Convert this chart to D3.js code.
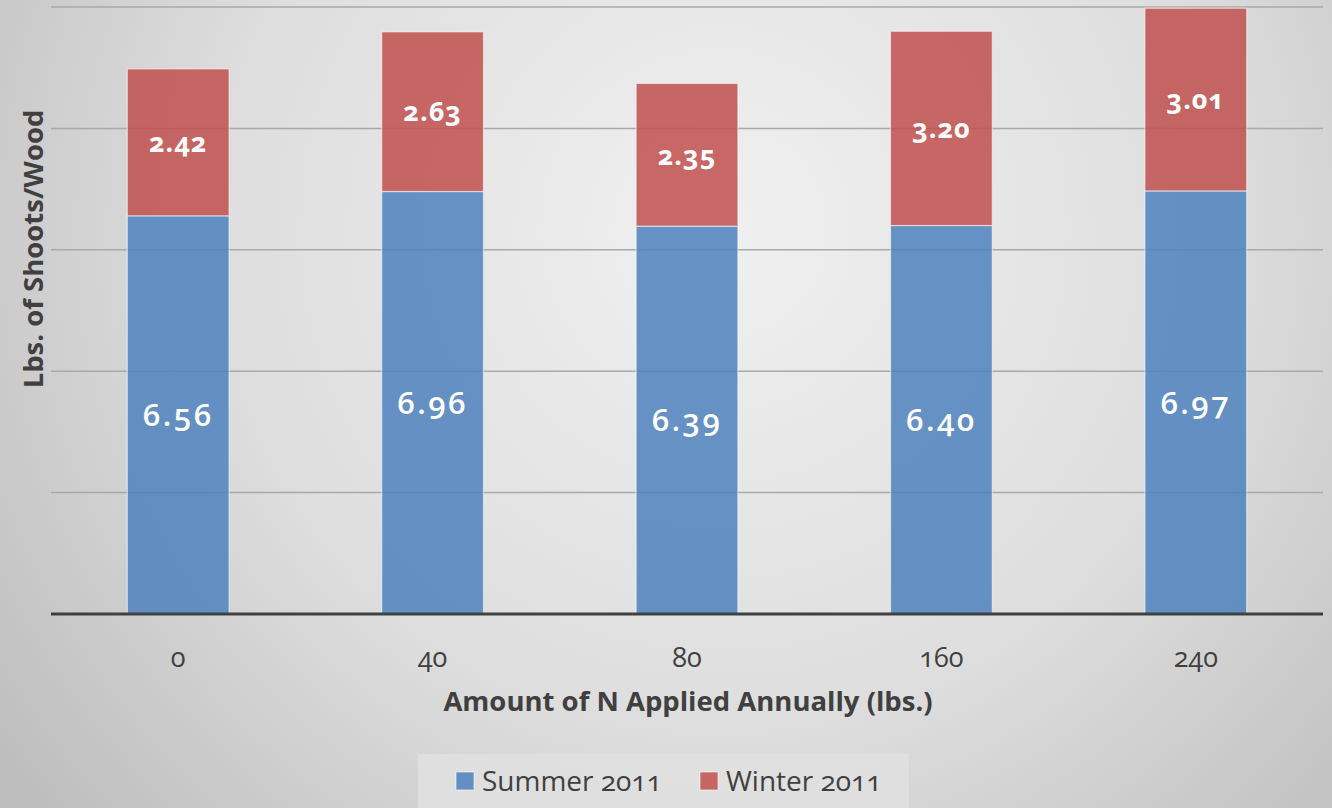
<!DOCTYPE html>
<html>
<head>
<meta charset="utf-8">
<script src="https://cdn.jsdelivr.net/npm/d3@7"></script>
<style>
  html, body { margin: 0; padding: 0; background: #d9d9d9; }
  svg { display: block; }
  text { font-family: "Open Sans", "Noto Sans", sans-serif; font-variant-numeric: oldstyle-nums; font-feature-settings: "onum" 1; }
</style>
</head>
<body>
<svg id="chart" width="1332" height="808"></svg>
<script>
// N application rates (lbs.) and pounds of shoots/wood per season
const categories = ["0", "40", "80", "160", "240"];
const summer2011 = [6.56, 6.96, 6.39, 6.40, 6.97];
const winter2011 = [2.42, 2.63, 2.35, 3.20, 3.01];
const seriesNames = ["Summer 2011", "Winter 2011"];
const yTicks = [0, 2, 4, 6, 8, 10];

const W = 1332, H = 808;
const margin = { left: 51, right: 9, top: 7, bottom: 194 };
const svg = d3.select("#chart");

// soft radial backdrop
const defs = svg.append("defs");
const grad = defs.append("radialGradient")
  .attr("id", "bg").attr("gradientUnits", "userSpaceOnUse")
  .attr("cx", 720).attr("cy", 230).attr("r", 900);
grad.append("stop").attr("offset", "0%").attr("stop-color", "#f0f0f0");
grad.append("stop").attr("offset", "55%").attr("stop-color", "#dedede");
grad.append("stop").attr("offset", "100%").attr("stop-color", "#bdbdbd");
svg.append("rect").attr("width", W).attr("height", H).attr("fill", "url(#bg)");

const x = d3.scaleBand()
  .domain(categories)
  .range([margin.left, W - margin.right])
  .paddingInner(0.6)
  .paddingOuter(0.3);

const y = d3.scaleLinear()
  .domain([0, 10])
  .range([H - margin.bottom, margin.top]);

// horizontal gridlines
svg.append("g")
  .selectAll("line")
  .data(yTicks.filter(d => d > 0))
  .join("line")
  .attr("x1", margin.left).attr("x2", W - margin.right)
  .attr("y1", d => y(d)).attr("y2", d => y(d))
  .attr("stroke", "#a9a9a9").attr("stroke-width", 1.5);

const rows = categories.map((c, i) => ({ cat: c, summer: summer2011[i], winter: winter2011[i] }));
const stack = d3.stack().keys(["summer", "winter"])(rows);
const colors = { summer: "#4f81bd", winter: "#c0504d" };

const layers = svg.append("g").selectAll("g")
  .data(stack)
  .join("g")
  .attr("fill", d => colors[d.key]);

layers.selectAll("rect")
  .data(d => d)
  .join("rect")
  .attr("x", d => x(d.data.cat))
  .attr("width", x.bandwidth())
  .attr("y", d => y(d[1]))
  .attr("height", d => y(d[0]) - y(d[1]))
  .attr("fill-opacity", 0.85)
  .attr("stroke", "rgba(255,255,255,0.55)")
  .attr("stroke-width", 1.2);

// value labels centred in each segment
stack.forEach(layer => {
  const isSummer = layer.key === "summer";
  svg.append("g").selectAll("text")
    .data(layer)
    .join("text")
    .attr("x", d => x(d.data.cat) + x.bandwidth() / 2)
    .attr("y", d => (y(d[0]) + y(d[1])) / 2)
    .attr("dy", "0.36em")
    .attr("text-anchor", "middle")
    .attr("fill", "#ffffff")
    .attr("font-size", isSummer ? 31 : 27)
    .attr("font-weight", isSummer ? 600 : 700)
    .attr("letter-spacing", isSummer ? 2.5 : 1)
    .text(d => (d[1] - d[0]).toFixed(2));
});

// category axis
const xAxis = svg.append("g")
  .attr("transform", `translate(0,${y(0)})`)
  .call(d3.axisBottom(x).tickSize(0).tickPadding(34));
xAxis.select(".domain").remove();
xAxis.selectAll("text")
  .attr("font-size", 27).attr("fill", "#404040")
  .style("font-family", "'Open Sans', 'Noto Sans', sans-serif");
svg.append("line")
  .attr("x1", margin.left).attr("x2", W - margin.right)
  .attr("y1", y(0)).attr("y2", y(0))
  .attr("stroke", "#404040").attr("stroke-width", 3);

// axis titles
svg.append("text")
  .attr("x", (margin.left + W - margin.right) / 2 + 1)
  .attr("y", 711)
  .attr("text-anchor", "middle")
  .attr("font-size", 27.5).attr("font-weight", 700).attr("fill", "#404040")
  .text("Amount of N Applied Annually (lbs.)");

svg.append("text")
  .attr("transform", "translate(43,249) rotate(-90)")
  .attr("text-anchor", "middle")
  .attr("font-size", 27.5).attr("font-weight", 700).attr("fill", "#404040")
  .text("Lbs. of Shoots/Wood");

// legend
const legend = svg.append("g");
legend.append("rect")
  .attr("x", 418).attr("y", 754).attr("width", 491).attr("height", 60)
  .attr("fill", "#e0e0e0").attr("fill-opacity", 0.85);
const legendX = [456, 700];
seriesNames.forEach((name, i) => {
  const key = i === 0 ? "summer" : "winter";
  legend.append("rect")
    .attr("x", legendX[i]).attr("y", 772).attr("width", 18).attr("height", 18)
    .attr("fill", colors[key]).attr("fill-opacity", 0.85)
    .attr("stroke", "rgba(255,255,255,0.6)").attr("stroke-width", 1);
  legend.append("text")
    .attr("x", legendX[i] + 26).attr("y", 781).attr("dy", "0.36em")
    .attr("font-size", 28).attr("fill", "#404040")
    .text(name);
});
</script>
</body>
</html>
